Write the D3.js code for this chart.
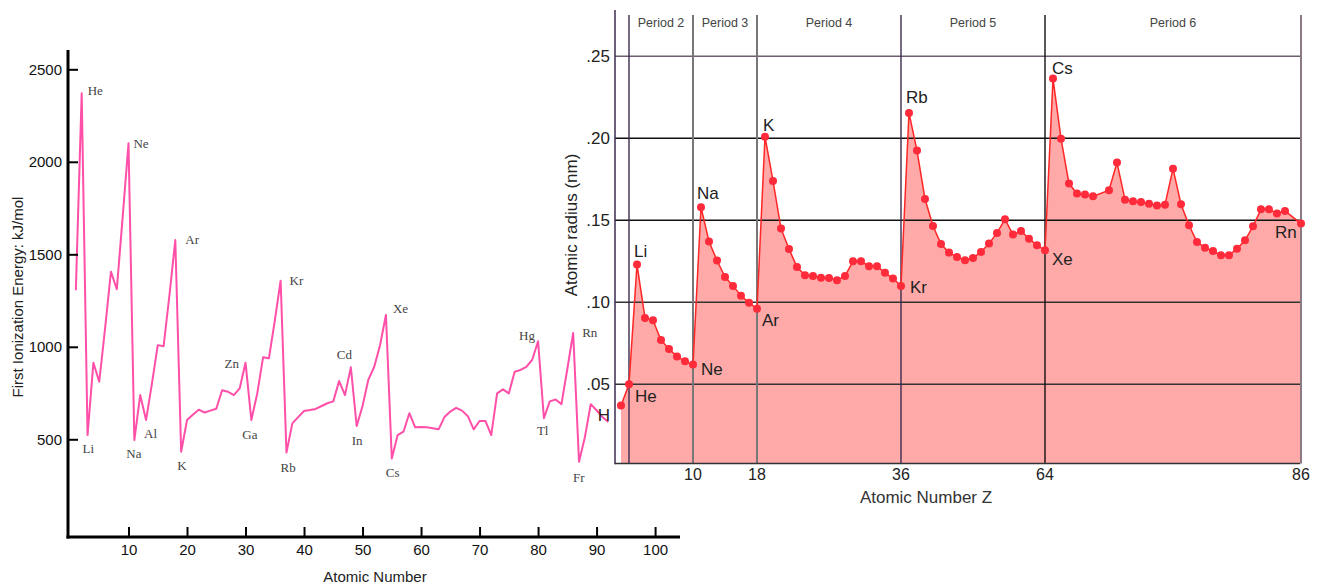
<!DOCTYPE html>
<html>
<head>
<meta charset="utf-8">
<script src="https://d3js.org/d3.v7.min.js"></script>
<style>
  body { margin: 0; background: #fff; }
  svg { display: block; }
</style>
</head>
<body>
<div id="graph_draw"></div>
<script>
// element symbols, Z = index + 1
var symbols = ["H","He","Li","Be","B","C","N","O","F","Ne",
  "Na","Mg","Al","Si","P","S","Cl","Ar",
  "K","Ca","Sc","Ti","V","Cr","Mn","Fe","Co","Ni","Cu","Zn","Ga","Ge","As","Se","Br","Kr",
  "Rb","Sr","Y","Zr","Nb","Mo","Tc","Ru","Rh","Pd","Ag","Cd","In","Sn","Sb","Te","I","Xe",
  "Cs","Ba","La","Ce","Pr","Nd","Pm","Sm","Eu","Gd","Tb","Dy","Ho","Er","Tm","Yb","Lu",
  "Hf","Ta","W","Re","Os","Ir","Pt","Au","Hg","Tl","Pb","Bi","Po","At","Rn",
  "Fr","Ra","Ac","Th","Pa","U"];

// first ionization energy, kJ/mol (left chart)
var ionEnergy = [1306,2370,523,914,811,1100,1406,1311,1700,2100,
  496,739,604,800,1009,1003,1280,1577,
  433,604,633,660,645,655,665,765,757,739,775,914,604,747,943,938,1140,1357,
  428,586,620,653,658,664,680,695,705,815,739,889,572,680,823,892,1010,1172,
  396,523,541,641,565,566,565,560,554,620,650,670,655,625,554,599,599,
  523,748,770,748,865,875,892,930,1030,614,705,715,690,880,1075,
  378,511,690,657,620,594];
var ieLabels = ["He","Ne","Ar","Kr","Li","Na","Al","K","Zn","Ga","Rb","Cd","In","Xe","Cs","Hg","Tl","Rn","Fr"];
var ieYTicks = [500,1000,1500,2000,2500];
var ieXTicks = [10,20,30,40,50,60,70,80,90,100];

// atomic radius, nm (right chart), null = not plotted
var radius = [0.037,0.050,
  0.123,0.0905,0.089,0.077,0.0715,0.067,0.064,0.062,
  0.158,0.137,0.1255,0.1155,0.110,0.104,0.0998,0.096,
  0.201,0.174,0.145,0.1325,0.1215,0.1165,0.116,0.115,0.1148,0.1135,0.116,0.125,0.125,0.122,0.122,0.118,0.1145,0.110,
  0.2155,0.1925,0.163,0.1465,0.1355,0.1303,0.1276,0.1256,0.127,0.1307,0.1358,0.1423,0.1506,0.1413,0.1435,0.1388,0.1348,0.1317,
  0.2364,0.1998,0.1724,0.1663,0.1657,0.1646,null,0.1683,0.1852,0.1626,0.1616,0.1612,0.1601,0.1591,0.1595,0.1815,0.1598,
  0.147,0.1368,0.1333,0.1313,0.1287,0.1287,0.1327,0.1378,0.1463,0.1567,0.1567,0.1541,0.1557,null,0.148];
var rLabels = ["H","He","Li","Ne","Na","Ar","K","Kr","Rb","Xe","Cs","Rn"];
var periodEdges = [2,10,18,36,54,86];
var periodNames = ["Period 2","Period 3","Period 4","Period 5","Period 6"];
var rYTicks = [0.05,0.10,0.15,0.20,0.25];
var rYTickLabels = [".05",".10",".15",".20",".25"];
var rXTicks = [10,18,36,54,86];
var rXTickLabels = ["10","18","36","64","86"];

var svg = d3.select("#graph_draw").append("svg")
    .attr("width", 1321).attr("height", 585);

var sans = "'Liberation Sans', Arial, Helvetica, sans-serif";
var serif = "'Liberation Serif', 'Times New Roman', serif";

// ---------- LEFT: ionization energy ----------
var ieData = ionEnergy.map(function(v, i) { return {z: i + 1, v: v, s: symbols[i]}; });
var x1 = d3.scaleLinear().domain([-0.34, 104.6]).range([68, 682]);
var y1 = d3.scaleLinear().domain([0, 2500]).range([531.8, 69.3]);

var left = svg.append("g");

left.append("path")
    .datum(ieData)
    .attr("fill", "none")
    .attr("stroke", "#ff4fa8")
    .attr("stroke-width", 2)
    .attr("stroke-linejoin", "round")
    .attr("d", d3.line().x(function(d) { return x1(d.z); }).y(function(d) { return y1(d.v); }));

// axes: ticks point inward
var yAx1 = left.append("g").attr("transform", "translate(68,0)")
    .call(d3.axisLeft(y1).tickValues(ieYTicks).tickFormat(d3.format("d"))
      .tickSizeInner(-10).tickSizeOuter(0).tickPadding(6));
var xAx1 = left.append("g").attr("transform", "translate(0,537)")
    .call(d3.axisBottom(x1).tickValues(ieXTicks).tickFormat(d3.format("d"))
      .tickSizeInner(-10).tickSizeOuter(0).tickPadding(7));
[yAx1, xAx1].forEach(function(a) {
  a.select(".domain").remove();
  a.selectAll(".tick line").attr("stroke", "#000").attr("stroke-width", 2);
  a.selectAll(".tick text").attr("font-family", sans).attr("font-size", 15).attr("fill", "#111");
});
left.append("line").attr("x1", 68).attr("x2", 68).attr("y1", 50).attr("y2", 538.5)
    .attr("stroke", "#000").attr("stroke-width", 3);
left.append("line").attr("x1", 66.5).attr("x2", 680).attr("y1", 537).attr("y2", 537)
    .attr("stroke", "#000").attr("stroke-width", 3);

left.append("text")
    .attr("transform", "translate(23,297) rotate(-90)")
    .attr("text-anchor", "middle")
    .attr("font-family", sans).attr("font-size", 15).attr("fill", "#222")
    .text("First Ionization Energy: kJ/mol");
left.append("text")
    .attr("x", 375).attr("y", 582)
    .attr("text-anchor", "middle")
    .attr("font-family", sans).attr("font-size", 15).attr("fill", "#222")
    .text("Atomic Number");

// label placement offsets from the data point
var ieOff = {He:[6,2],Ne:[5,5],Ar:[10,4],Kr:[9,4],Li:[-5,18],Na:[-8,18],Al:[-2,18],K:[-4,18],
  Zn:[-21,5],Ga:[-9,19],Rb:[-6,19],Cd:[-14,-8],In:[-5,19],Xe:[7,-2],Cs:[-6,18],
  Hg:[-19,-1],Tl:[-7,17],Rn:[9,4],Fr:[-6,20]};
left.selectAll("text.el")
    .data(ieData.filter(function(d) { return ieLabels.indexOf(d.s) >= 0; }))
    .enter().append("text")
    .attr("class", "el")
    .attr("x", function(d) { return x1(d.z) + ieOff[d.s][0]; })
    .attr("y", function(d) { return y1(d.v) + ieOff[d.s][1]; })
    .attr("font-family", serif).attr("font-size", 13).attr("fill", "#444")
    .text(function(d) { return d.s; });

// ---------- RIGHT: atomic radius ----------
var rData = [];
radius.forEach(function(v, i) { if (v !== null) rData.push({z: i + 1, v: v, s: symbols[i]}); });
var x2 = d3.scaleLinear().domain([0.25, 85.875]).range([615, 1300]);
var y2 = d3.scaleLinear().domain([0, 0.25]).range([466.3, 56.3]);
var base = 463.5;

var right = svg.append("g");

right.append("defs").append("clipPath").attr("id", "plotclip")
    .append("rect").attr("x", 615).attr("y", 0).attr("width", 685).attr("height", base);

right.append("path")
    .datum(rData)
    .attr("fill", "#ffaaa8")
    .attr("d", d3.area().x(function(d) { return x2(d.z); }).y0(base).y1(function(d) { return y2(d.v); }));

// horizontal grid
right.selectAll("line.hg").data(rYTicks).enter().append("line")
    .attr("class", "hg")
    .attr("x1", 615).attr("x2", 1300)
    .attr("y1", function(d) { return y2(d); }).attr("y2", function(d) { return y2(d); })
    .attr("stroke", function(d, i) { return i === 4 ? "#6e5e70" : (i >= 2 ? "#111" : "#333"); })
    .attr("stroke-width", 1.4);

// period dividers
var edgeColors = ["#3d2b4f", "#777", "#777", "#3d2b4f", "#111", "#8a7a86"];
right.selectAll("line.vg").data(periodEdges).enter().append("line")
    .attr("class", "vg")
    .attr("x1", function(d) { return x2(d); }).attr("x2", function(d) { return x2(d); })
    .attr("y1", 15).attr("y2", base)
    .attr("stroke", function(d, i) { return edgeColors[i]; })
    .attr("stroke-width", function(d, i) { return (i === 1 || i === 2 || i === 5) ? 2 : 1.4; });

right.append("line").attr("x1", 615).attr("x2", 615).attr("y1", 10).attr("y2", base + 0.7)
    .attr("stroke", "#3d2b4f").attr("stroke-width", 1.5);
right.append("line").attr("x1", 615).attr("x2", 1300).attr("y1", base).attr("y2", base)
    .attr("stroke", "#333").attr("stroke-width", 1.4);

right.selectAll("text.period").data(periodNames).enter().append("text")
    .attr("class", "period")
    .attr("x", function(d, i) { return (x2(periodEdges[i]) + x2(periodEdges[i + 1])) / 2; })
    .attr("y", 27)
    .attr("text-anchor", "middle")
    .attr("font-family", sans).attr("font-size", 12.5).attr("fill", "#444")
    .text(function(d) { return d; });

// data line + points
right.append("path")
    .datum(rData)
    .attr("fill", "none")
    .attr("stroke", "#ff2626")
    .attr("stroke-width", 1.5)
    .attr("d", d3.line().x(function(d) { return x2(d.z); }).y(function(d) { return y2(d.v); }));
right.selectAll("circle").data(rData).enter().append("circle")
    .attr("cx", function(d) { return x2(d.z); })
    .attr("cy", function(d) { return y2(d.v); })
    .attr("r", 4)
    .attr("fill", "#ff2a3a");

// y tick labels
right.selectAll("text.yt").data(rYTicks).enter().append("text")
    .attr("class", "yt")
    .attr("x", 610).attr("y", function(d) { return y2(d) + 6; })
    .attr("text-anchor", "end")
    .attr("font-family", sans).attr("font-size", 17).attr("fill", "#222")
    .text(function(d, i) { return rYTickLabels[i]; });
// x tick labels
right.selectAll("text.xt").data(rXTicks).enter().append("text")
    .attr("class", "xt")
    .attr("x", function(d) { return x2(d); }).attr("y", 480)
    .attr("text-anchor", "middle")
    .attr("font-family", sans).attr("font-size", 16).attr("fill", "#222")
    .text(function(d, i) { return rXTickLabels[i]; });

right.append("text")
    .attr("transform", "translate(577,225) rotate(-90)")
    .attr("text-anchor", "middle")
    .attr("font-family", sans).attr("font-size", 17).attr("fill", "#222")
    .text("Atomic radius (nm)");
right.append("text")
    .attr("x", 926).attr("y", 503)
    .attr("text-anchor", "middle")
    .attr("font-family", sans).attr("font-size", 17).attr("fill", "#333")
    .text("Atomic Number Z");

var rOff = {H:[-11,15,"end"],He:[6,18],Li:[-3,-8],Ne:[8,10],Na:[-4,-8],Ar:[5,17],K:[-2,-6],
  Kr:[9,7],Rb:[-3,-10],Xe:[7,15],Cs:[-1,-5],Rn:[-26,14]};
right.selectAll("text.el").data(rData.filter(function(d) { return rLabels.indexOf(d.s) >= 0; }))
    .enter().append("text")
    .attr("class", "el")
    .attr("x", function(d) { return x2(d.z) + rOff[d.s][0]; })
    .attr("y", function(d) { return y2(d.v) + rOff[d.s][1]; })
    .attr("text-anchor", function(d) { return rOff[d.s][2] || "start"; })
    .attr("clip-path", function(d) { return d.s === "H" ? null : "url(#plotclip)"; })
    .attr("font-family", sans).attr("font-size", 17).attr("fill", "#222")
    .text(function(d) { return d.s; });
</script>
</body>
</html>
